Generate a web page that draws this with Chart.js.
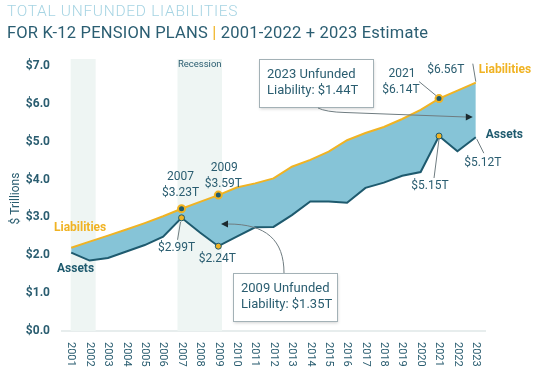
<!DOCTYPE html>
<html>
<head>
<meta charset="utf-8">
<script src="https://cdn.jsdelivr.net/npm/chart.js@4.4.1/dist/chart.umd.min.js"></script>
<style>
  body { margin: 0; background: #fff; }
  #wrap { position: relative; width: 536px; height: 376px; overflow: hidden; font-family: Roboto, sans-serif; }
  .t { position: absolute; left: 7px; line-height: 1; white-space: nowrap; }
  #t1 { top: 4px; font-size: 15.5px; font-weight: 300; color: #a6d4e3; letter-spacing: 0.7px; }
  #t2 { top: 25px; font-size: 16.5px; font-weight: 400; color: #2b5e72; letter-spacing: 0.2px; }
  #t2 .bar { color: #f0b323; }
  canvas { position: absolute; left: 0; top: 0; }
</style>
</head>
<body>
<div id="wrap">
  <canvas id="myChart" width="536" height="376"></canvas>
  <div class="t" id="t1">TOTAL UNFUNDED LIABILITIES</div>
  <div class="t" id="t2">FOR K-12 PENSION PLANS <span class="bar">|</span> 2001-2022 + 2023 Estimate</div>
</div>
<script>
// values in $ trillions
const years = ['2001', '2002', '2003', '2004', '2005', '2006', '2007', '2008', '2009', '2010', '2011', '2012',
               '2013', '2014', '2015', '2016', '2017', '2018', '2019', '2020', '2021', '2022', '2023'];
const liabilities = [2.20, 2.36, 2.52, 2.68, 2.85, 3.03, 3.23, 3.41, 3.59, 3.79, 3.90, 4.03,
                     4.34, 4.52, 4.74, 5.04, 5.23, 5.39, 5.60, 5.84, 6.14, 6.35, 6.56];
const assets = [2.07, 1.86, 1.93, 2.10, 2.27, 2.49, 2.99, 2.60, 2.24, 2.49, 2.74, 2.75,
                3.06, 3.42, 3.42, 3.39, 3.78, 3.92, 4.10, 4.20, 5.15, 4.75, 5.12];
const markedYears = ['2007', '2009', '2021'];
const recessions = [[2000.97, 2002.33], [2006.78, 2009.2]];
const yTicks = [0, 1, 2, 3, 4, 5, 6, 7];

const DARK = '#2a5d70';
const GOLD = '#f0b323';
const ASSET_LINE = '#1e5a6e';
const FILL = '#86c4d7';

const liabRadius = years.map(y => markedYears.includes(y) ? 3.5 : 0);
const assetRadius = years.map(y => markedYears.includes(y) ? 3 : 0);

function fmt(v) { return '$' + v.toFixed(2) + 'T'; }

function text(ctx, str, x, y, opts) {
    opts = opts || {};
    ctx.save();
    ctx.font = (opts.weight || 'normal') + ' ' + (opts.size || 12) + 'px Roboto';
    ctx.fillStyle = opts.color || DARK;
    ctx.textAlign = opts.align || 'center';
    ctx.textBaseline = 'middle';
    ctx.fillText(str, x, y);
    ctx.restore();
}

function line(ctx, x1, y1, x2, y2) {
    ctx.save();
    ctx.strokeStyle = '#6f7c80';
    ctx.lineWidth = 1;
    ctx.beginPath();
    ctx.moveTo(x1, y1);
    ctx.lineTo(x2, y2);
    ctx.stroke();
    ctx.restore();
}

function box(ctx, x, y, w, h, lines) {
    ctx.save();
    ctx.shadowColor = 'rgba(0,0,0,0.18)';
    ctx.shadowBlur = 3;
    ctx.shadowOffsetX = 1;
    ctx.shadowOffsetY = 2;
    ctx.fillStyle = '#fff';
    ctx.fillRect(x, y, w, h);
    ctx.restore();
    ctx.save();
    ctx.strokeStyle = '#a3b1b6';
    ctx.lineWidth = 1;
    ctx.strokeRect(x + 0.5, y + 0.5, w, h);
    ctx.restore();
    lines.forEach((s, i) => text(ctx, s, x + 8, y + 16 + i * 16, { size: 13, align: 'left' }));
}

function arrowHead(ctx, x, y, dir) {
    ctx.save();
    ctx.fillStyle = '#1c2b30';
    ctx.beginPath();
    ctx.moveTo(x, y);
    ctx.lineTo(x - dir * 7, y - 3.5);
    ctx.lineTo(x - dir * 7, y + 3.5);
    ctx.closePath();
    ctx.fill();
    ctx.restore();
}

const decorations = {
    id: 'decorations',
    beforeDatasetsDraw(chart) {
        const { ctx, chartArea, scales: { x } } = chart;
        ctx.save();
        ctx.fillStyle = '#eef5f3';
        recessions.forEach(([a, b]) => {
            const x1 = x.getPixelForValue(a - 2001);
            const x2 = x.getPixelForValue(b - 2001);
            ctx.fillRect(x1, chartArea.top - 7, x2 - x1, chartArea.bottom - chartArea.top + 7);
        });
        ctx.restore();
        const r = recessions[1];
        text(ctx, 'Recession', (x.getPixelForValue(r[0] - 2001) + x.getPixelForValue(r[1] - 2001)) / 2,
             chartArea.top - 1, { size: 9.5 });
    },
    afterDraw(chart) {
        const { ctx, chartArea, scales: { x, y } } = chart;
        const px = i => x.getPixelForValue(i);
        const pl = i => y.getPixelForValue(liabilities[i]);
        const pa = i => y.getPixelForValue(assets[i]);
        const i07 = years.indexOf('2007'), i09 = years.indexOf('2009');
        const i21 = years.indexOf('2021'), i23 = years.length - 1;

        // x tick labels, rotated clockwise
        years.forEach((yr, i) => {
            ctx.save();
            ctx.translate(px(i), chartArea.bottom + 11);
            ctx.rotate(Math.PI / 2);
            ctx.font = '11px Roboto';
            ctx.fillStyle = DARK;
            ctx.textAlign = 'left';
            ctx.textBaseline = 'middle';
            ctx.fillText(yr, 0, 0);
            ctx.restore();
        });

        // y axis title
        ctx.save();
        ctx.translate(16, (chartArea.top + chartArea.bottom) / 2);
        ctx.rotate(-Math.PI / 2);
        ctx.font = '12px Roboto';
        ctx.fillStyle = DARK;
        ctx.textAlign = 'center';
        ctx.textBaseline = 'middle';
        ctx.fillText('$ Trillions', 0, 0);
        ctx.restore();

        // series names
        text(ctx, 'Liabilities', 54, pl(0) - 20, { weight: 'bold', color: GOLD, align: 'left' });
        text(ctx, 'Assets', 57, pa(0) + 16, { weight: 'bold', color: ASSET_LINE, align: 'left' });
        text(ctx, 'Liabilities', px(i23) + 3, pl(i23) - 13, { weight: 'bold', color: GOLD, align: 'left' });
        text(ctx, 'Assets', px(i23) + 10, pa(i23) - 2, { weight: 'bold', color: ASSET_LINE, align: 'left' });

        // 2007
        text(ctx, years[i07], px(i07) - 1, pl(i07) - 32);
        text(ctx, fmt(liabilities[i07]), px(i07) - 1, pl(i07) - 16);
        line(ctx, px(i07) - 1, pa(i07) + 4, px(i07) - 4, pa(i07) + 22);
        text(ctx, fmt(assets[i07]), px(i07) - 5, pa(i07) + 30);
        // 2009
        text(ctx, years[i09], px(i09) + 6, pl(i09) - 27);
        text(ctx, fmt(liabilities[i09]), px(i09) + 5, pl(i09) - 11);
        text(ctx, fmt(assets[i09]), px(i09) - 1, pa(i09) + 13);
        // 2021
        text(ctx, years[i21], px(i21) - 37, pl(i21) - 25);
        text(ctx, fmt(liabilities[i21]), px(i21) - 38, pl(i21) - 9);
        line(ctx, px(i21) - 20, pl(i21) - 17, px(i21) - 3, pl(i21) - 3);
        line(ctx, px(i21), pa(i21) + 3, px(i21) - 5, pa(i21) + 42);
        text(ctx, fmt(assets[i21]), px(i21) - 9, pa(i21) + 50);
        // 2023
        text(ctx, fmt(liabilities[i23]), px(i23) - 30, pl(i23) - 13);
        line(ctx, px(i23) - 3, pl(i23) - 19, px(i23), pl(i23) - 1);
        line(ctx, px(i23) + 1, pa(i23) + 2, px(i23) + 8, pa(i23) + 16);
        text(ctx, fmt(assets[i23]), px(i23) + 7, pa(i23) + 26);

        // 2023 unfunded callout
        box(ctx, 259, 59, 114, 48, ['2023 Unfunded', 'Liability: ' + fmt(liabilities[i23] - assets[i23])]);
        ctx.save();
        ctx.strokeStyle = '#6f7c80';
        ctx.lineWidth = 1;
        ctx.beginPath();
        ctx.moveTo(318, 108);
        ctx.quadraticCurveTo(326, 112, 345, 112.5);
        ctx.lineTo(466, 117);
        ctx.stroke();
        ctx.restore();
        arrowHead(ctx, px(i23) - 3, 117, 1);

        // 2009 unfunded callout
        ctx.save();
        ctx.strokeStyle = '#6f7c80';
        ctx.lineWidth = 1;
        ctx.beginPath();
        ctx.moveTo(284, 273);
        ctx.bezierCurveTo(284, 240, 266, 224, 228, 224);
        ctx.stroke();
        ctx.restore();
        arrowHead(ctx, 221, 224, -1);
        box(ctx, 233, 273, 104, 48, ['2009 Unfunded', 'Liability: ' + fmt(liabilities[i09] - assets[i09])]);
    }
};

function createChart() {
    const ctx = document.getElementById('myChart');
    new Chart(ctx, {
        type: 'line',
        data: {
            labels: years,
            datasets: [{
                label: 'Liabilities',
                data: liabilities,
                borderColor: GOLD,
                borderWidth: 2,
                pointRadius: liabRadius,
                pointBackgroundColor: ASSET_LINE,
                pointBorderColor: GOLD,
                pointBorderWidth: 2,
                fill: false,
                tension: 0
            }, {
                label: 'Assets',
                data: assets,
                borderColor: ASSET_LINE,
                borderWidth: 2,
                backgroundColor: FILL,
                pointRadius: assetRadius,
                pointBackgroundColor: GOLD,
                pointBorderColor: ASSET_LINE,
                pointBorderWidth: 1,
                fill: '-1',
                tension: 0
            }]
        },
        options: {
            responsive: false,
            animation: false,
            devicePixelRatio: 1,
            layout: { padding: { top: 66, right: 51, bottom: 45, left: 0 } },
            plugins: {
                legend: { display: false },
                tooltip: { enabled: false }
            },
            scales: {
                x: {
                    offset: true,
                    grid: { display: false, drawTicks: false },
                    border: { display: true, color: '#e7eded', width: 2 },
                    ticks: { display: false }
                },
                y: {
                    min: 0,
                    max: 7,
                    afterBuildTicks: s => { s.ticks = yTicks.map(v => ({ value: v })); },
                    afterFit: s => { s.width = 62; },
                    grid: { display: false, drawTicks: false },
                    border: { display: false },
                    ticks: {
                        padding: 12,
                        color: DARK,
                        font: { family: 'Roboto', size: 12, weight: 'bold' },
                        callback: v => '$' + Number(v).toFixed(1)
                    }
                }
            }
        },
        plugins: [decorations]
    });
}

createChart();
</script>
</body>
</html>
